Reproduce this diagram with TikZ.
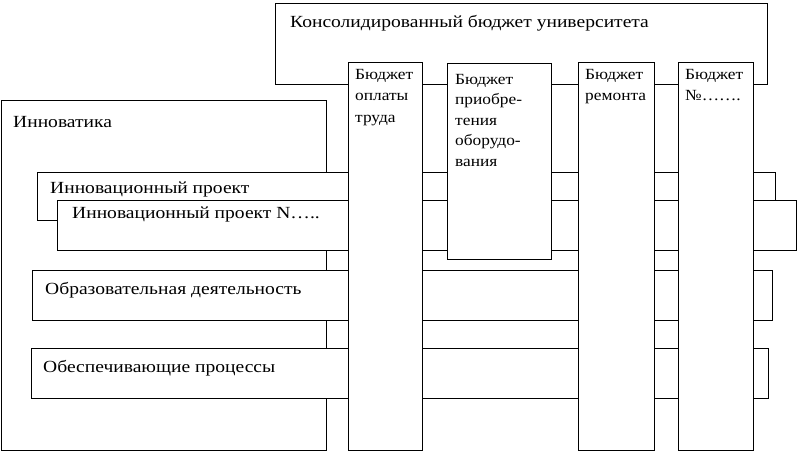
\documentclass[tikz,border=0pt]{standalone}
\usepackage{fontspec}
\setmainfont{Liberation Serif}
\newfontfamily\widefont[FakeStretch=1.15]{Liberation Serif}
\newfontfamily\colfont[FakeStretch=1.12]{Liberation Serif}
\begin{document}
\begin{tikzpicture}[x=1pt,y=-1pt,
  box/.style={draw, line width=1.3pt, fill=white, inner sep=0pt, anchor=north west},
  lbl/.style={anchor=base west, inner sep=0pt, font=\widefont\fontsize{17}{20}\selectfont},
  col/.style={anchor=north west, inner sep=0pt, align=left, font=\colfont\fontsize{15.5}{21.5}\selectfont},
  col2txt/.style={anchor=north west, inner sep=0pt, align=left, font=\colfont\fontsize{15.5}{20.5}\selectfont}]
\useasboundingbox (0,0) rectangle (797,453);
% top consolidated budget
\node[box, minimum width=492pt, minimum height=81pt] (top) at (275,3) {};
\node[lbl] (toplbl) at (290,27) {Консолидированный бюджет университета};
% innovation box
\node[box, minimum width=325pt, minimum height=350pt] (innov) at (1,100) {};
\node[lbl] (innovlbl) at (13,127) {Инноватика};
% rows
\node[box, minimum width=738pt, minimum height=48pt] (rowA) at (37,172) {};
\node[lbl] (rowAlbl) at (50,193) {Инновационный проект};
\node[box, minimum width=739pt, minimum height=50pt] (rowB) at (57,200) {};
\node[lbl] (rowBlbl) at (72,218) {Инновационный проект N…..};
\node[box, minimum width=740pt, minimum height=50pt] (rowC) at (32,270) {};
\node[lbl] (rowClbl) at (45,294.5) {Образовательная деятельность};
\node[box, minimum width=737pt, minimum height=50pt] (rowD) at (31,348) {};
\node[lbl] (rowDlbl) at (43,372) {Обеспечивающие процессы};
% columns
\node[box, minimum width=74pt, minimum height=388pt] (col1) at (348,62) {};
\node[col] (col1lbl) at (355,69) {Бюджет\\оплаты\\труда};
\node[box, minimum width=104pt, minimum height=196pt] (col2) at (447,63) {};
\node[col2txt] (col2lbl) at (455,74) {Бюджет\\приобре-\\тения\\оборудо-\\вания};
\node[box, minimum width=76pt, minimum height=388pt] (col3) at (578,62) {};
\node[col] (col3lbl) at (585,69) {Бюджет\\ремонта};
\node[box, minimum width=75pt, minimum height=388pt] (col4) at (678,62) {};
\node[col] (col4lbl) at (685,69) {Бюджет\\№…….};
\end{tikzpicture}
\end{document}
